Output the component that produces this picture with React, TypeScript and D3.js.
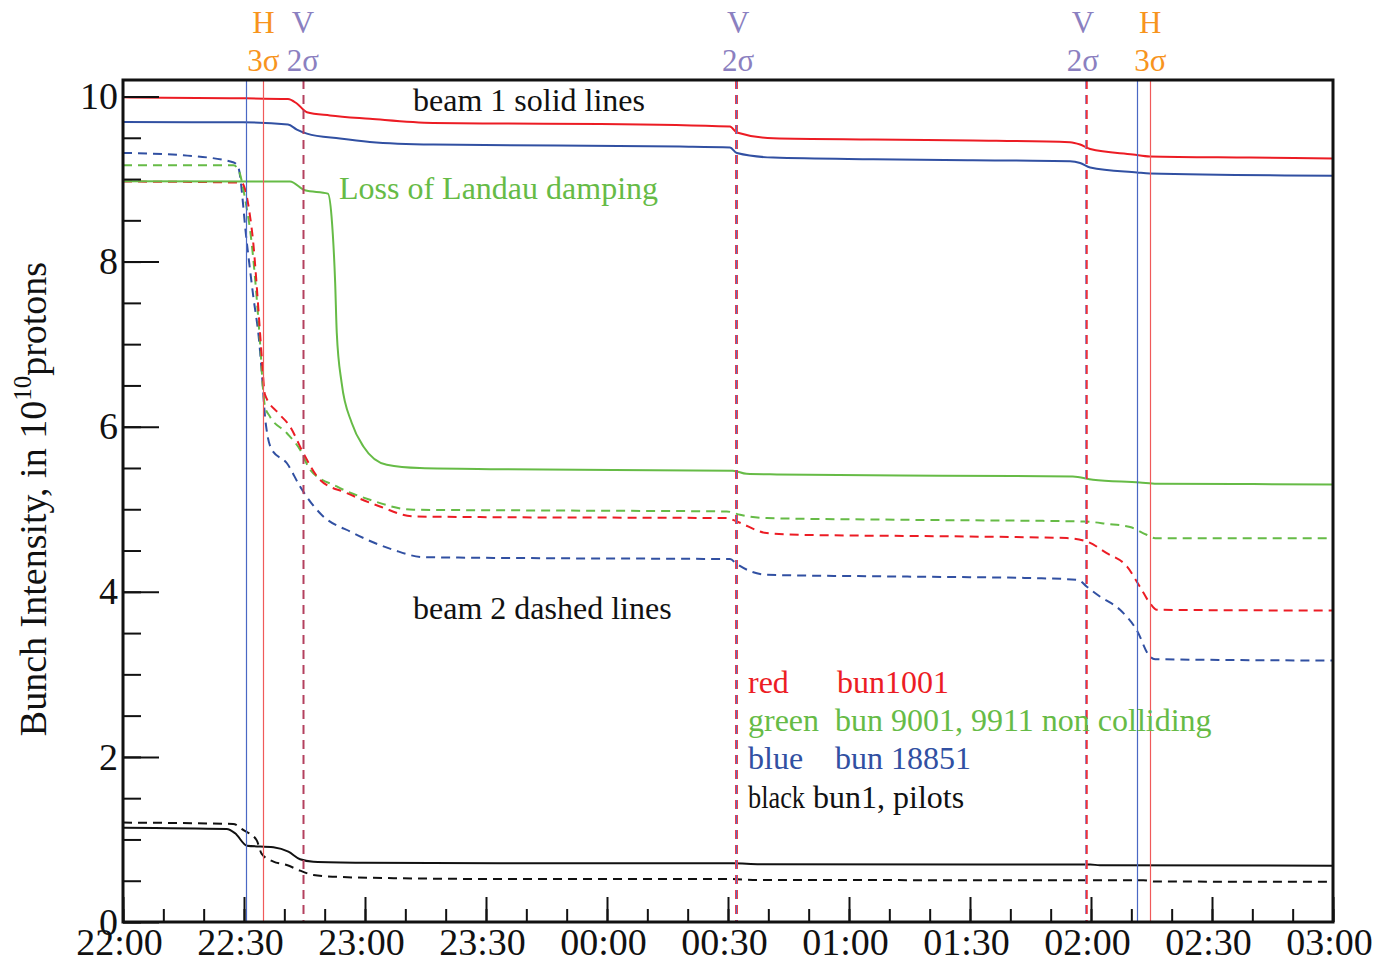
import React, { useEffect, useRef } from "react";
import * as d3 from "d3";

type P = [number, number];

// time in minutes after 22:00, intensity in 1e10 protons
const redSolid: P[] = [[0,9.99],[26.5,9.98],[40.9,9.97],[43.1,9.915],[45.6,9.81],[51.3,9.77],[61.2,9.73],[76.9,9.68],[93.5,9.673],[118.3,9.667],[150.5,9.636],[152.2,9.564],[161.2,9.494],[186,9.479],[210.7,9.467],[234.8,9.446],[237.3,9.418],[239.8,9.364],[250.4,9.297],[254.6,9.273],[279.4,9.26],[300,9.25]];
const blueSolid: P[] = [[0,9.69],[29.8,9.687],[40.9,9.66],[43.1,9.6],[45.6,9.55],[53.8,9.49],[61.2,9.45],[76.9,9.418],[138.1,9.394],[150.5,9.382],[152.2,9.315],[161.2,9.26],[186,9.24],[210.7,9.228],[234.8,9.216],[237.3,9.195],[239.8,9.14],[251.4,9.08],[254.6,9.067],[300,9.04]];
const greenSolid: P[] = [[0,8.974],[41.4,8.97],[45.1,8.864],[50.8,8.824],[51.7,8.549],[52.6,7.745],[53.0,7.139],[54.2,6.533],[56.7,6.048],[59.6,5.761],[65.4,5.539],[73.6,5.499],[93.5,5.485],[151.2,5.467],[154.6,5.43],[162.1,5.422],[202.6,5.406],[235.5,5.398],[240.5,5.358],[252.1,5.325],[256.3,5.309],[280.2,5.305],[300,5.3]];
const blackSolid: P[] = [[0,1.143],[25.7,1.127],[27.8,1.075],[30.7,0.925],[37.3,0.905],[41.0,0.852],[43.9,0.76],[47.2,0.731],[59.6,0.719],[93.5,0.711],[151.3,0.711],[157.9,0.699],[239.8,0.697],[242.2,0.687],[300,0.682]];

const redDashed: P[] = [[0,8.97],[28.2,8.958],[29.4,8.954],[31.5,8.549],[32.3,8.226],[33.1,7.742],[33.8,7.261],[34.4,6.852],[35.2,6.388],[38.5,6.166],[41.4,6.004],[44.7,5.681],[48.8,5.358],[55.5,5.196],[63.7,5.034],[72.0,4.913],[88.5,4.905],[149.7,4.893],[152.2,4.852],[159.6,4.711],[167.4,4.691],[209.2,4.67],[234.0,4.651],[238.9,4.61],[243.9,4.469],[248.9,4.307],[252.1,4.064],[254.6,3.863],[256.3,3.782],[300,3.773]];
const greenDashed: P[] = [[0,9.167],[27.4,9.167],[28.6,9.115],[30.3,8.752],[31.9,8.226],[32.7,7.822],[33.5,7.337],[34.1,6.933],[34.6,6.53],[35.2,6.246],[36.4,6.125],[40.6,5.924],[43.9,5.721],[46.4,5.479],[53.0,5.276],[61.2,5.115],[72.0,4.994],[105.0,4.985],[149.7,4.973],[153.0,4.933],[159.6,4.893],[192.6,4.873],[238.1,4.852],[243.9,4.824],[249.7,4.784],[253.8,4.691],[255.9,4.65],[300,4.65]];
const blueDashed: P[] = [[0,9.317],[14.9,9.288],[27.3,9.204],[28.5,9.155],[30.7,8.23],[32.3,7.58],[33.8,7.015],[34.6,6.53],[35.2,6.125],[35.6,5.964],[36.9,5.721],[40.6,5.56],[43.9,5.276],[45.5,5.155],[48.8,4.954],[57.1,4.712],[67.0,4.509],[74.5,4.42],[105.0,4.407],[150.5,4.396],[152.1,4.339],[159.6,4.206],[192.6,4.185],[225.6,4.166],[236.8,4.145],[238.9,4.064],[242.2,3.943],[247.2,3.782],[251.3,3.539],[254.6,3.216],[255.9,3.184],[300,3.167]];
const blackDashed: P[] = [[0,1.204],[27.3,1.188],[29.8,1.115],[33.1,0.994],[34.4,0.824],[37.3,0.731],[40.6,0.691],[43.9,0.622],[47.2,0.57],[52.1,0.549],[68.7,0.53],[93.5,0.521],[149.7,0.521],[157.9,0.509],[253,0.505],[256,0.49],[300,0.488]];

// collimator moves (minutes after 22:00)
const blueMarkers = [30.6, 251.3];
const redMarkers = [34.8, 254.7];
const dashedMarkers = [44.6, 151.9, 238.8];
const hLabelTimes = [34.8, 254.7];
const vLabelTimes = [44.6, 152.5, 238.0];

const xMajorTicks = [0, 30, 60, 90, 120, 150, 180, 210, 240, 270, 300];
const xTickLabels = ["22:00", "22:30", "23:00", "23:30", "00:00", "00:30", "01:00", "01:30", "02:00", "02:30", "03:00"];
const xMinorTicks = d3.range(0, 301, 10);
const yMajorTicks = [0, 2, 4, 6, 8, 10];
const yMinorTicks = d3.range(0, 10.01, 0.5);

const FONT = "'Liberation Serif', 'DejaVu Serif', serif";
const C_RED = "#ec1c24";
const C_BLUE = "#3150a2";
const C_GREEN = "#66bb46";
const C_ORANGE = "#f7941d";
const C_PURPLE = "#8b80c0";

export default function App() {
  const xMinRef = useRef<SVGGElement>(null);
  const xMajRef = useRef<SVGGElement>(null);
  const yMinRef = useRef<SVGGElement>(null);
  const yMajRef = useRef<SVGGElement>(null);

  const x = d3.scaleLinear().domain([0, 300]).range([123, 1333]);
  const y = d3.scaleLinear().domain([0, 10.2]).range([922, 80]);
  const line = d3.line<P>().x(d => x(d[0])).y(d => y(d[1])).curve(d3.curveMonotoneX);
  const snap = (v: number) => Math.round(v) + 0.5;

  useEffect(() => {
    const style = (g: any, size: number) => {
      g.select(".domain").remove();
      g.selectAll("line").attr("stroke", "#111").attr("stroke-width", 2);
      g.attr("font-family", FONT).attr("font-size", size);
      g.selectAll("text").attr("fill", "#111");
    };
    const gxMin = d3.select(xMinRef.current!);
    gxMin.call(d3.axisBottom(x).tickValues(xMinorTicks).tickSize(-13).tickFormat(() => "") as any);
    style(gxMin, 38);
    const gxMaj = d3.select(xMajRef.current!);
    gxMaj.call(d3.axisBottom(x).tickValues(xMajorTicks).tickSize(-25).tickPadding(6).tickFormat((_d, i) => xTickLabels[i]) as any);
    style(gxMaj, 38);
    gxMaj.selectAll("text").attr("dx", -4);
    const gyMin = d3.select(yMinRef.current!);
    gyMin.call(d3.axisLeft(y).tickValues(yMinorTicks).tickSize(-18).tickFormat(() => "") as any);
    style(gyMin, 38);
    const gyMaj = d3.select(yMajRef.current!);
    gyMaj.call(d3.axisLeft(y).tickValues(yMajorTicks).tickSize(-36).tickPadding(5).tickFormat(d3.format("d")) as any);
    style(gyMaj, 38);
  }, []);

  const series: { data: P[]; color: string; dash?: string }[] = [
    { data: blackDashed, color: "#111", dash: "9,6" },
    { data: blackSolid, color: "#111" },
    { data: blueDashed, color: C_BLUE, dash: "9,6" },
    { data: greenDashed, color: C_GREEN, dash: "9,6" },
    { data: redDashed, color: C_RED, dash: "9,6" },
    { data: greenSolid, color: C_GREEN },
    { data: blueSolid, color: C_BLUE },
    { data: redSolid, color: C_RED },
  ];

  const markerStyles = [
    [{ c: "#b4405e", w: 2, dx: 0 }],
    [{ c: "#f0404a", w: 3, dx: 0 }, { c: "#5a6cc0", w: 1, dx: 0 }],
    [{ c: "#f0303a", w: 2.5, dx: 0 }, { c: "#8090d0", w: 0.8, dx: -1 }],
  ];

  return (
    <svg width={1376} height={964} style={{ position: "absolute", left: 0, top: 0, background: "#fff" }} fontFamily={FONT}>
      <rect x={0} y={0} width={1376} height={964} fill="#fff" />
      {series.map((s, i) => (
        <path key={i} d={line(s.data) || ""} fill="none" stroke={s.color} strokeWidth={2} strokeDasharray={s.dash} />
      ))}
      {blueMarkers.map((t, i) => (
        <line key={"b" + i} x1={snap(x(t))} x2={snap(x(t))} y1={y(10.2)} y2={y(0)} stroke="#4a68c4" strokeWidth={1.2} />
      ))}
      {redMarkers.map((t, i) => (
        <line key={"r" + i} x1={snap(x(t))} x2={snap(x(t))} y1={y(10.2)} y2={y(0)} stroke="#f05a5a" strokeWidth={1.2} />
      ))}
      {dashedMarkers.map((t, i) => (
        <g key={"d" + i}>
          {markerStyles[i].map((m, j) => (
            <line key={j} x1={snap(x(t)) + m.dx} x2={snap(x(t)) + m.dx} y1={y(10.2)} y2={y(0)} stroke={m.c} strokeWidth={m.w} strokeDasharray="9,6" />
          ))}
        </g>
      ))}
      <g ref={xMinRef} transform="translate(0,922)" />
      <g ref={xMajRef} transform="translate(0,922)" />
      <g ref={yMinRef} transform="translate(123,0)" />
      <g ref={yMajRef} transform="translate(123,0)" />
      <rect x={123} y={80} width={1210} height={842} fill="none" stroke="#111" strokeWidth={3} />

      {hLabelTimes.map((t, i) => (
        <g key={"h" + i} fill={C_ORANGE} fontSize={31} textAnchor="middle">
          <text x={x(t)} y={33}>H</text>
          <text x={x(t)} y={71}>3σ</text>
        </g>
      ))}
      {vLabelTimes.map((t, i) => (
        <g key={"v" + i} fill={C_PURPLE} fontSize={31} textAnchor="middle">
          <text x={x(t)} y={33}>V</text>
          <text x={x(t)} y={71}>2σ</text>
        </g>
      ))}

      <text x={413} y={111} fontSize={32} fill="#111">beam 1 solid lines</text>
      <text x={339} y={199} fontSize={32} fill={C_GREEN}>Loss of Landau damping</text>
      <text x={413} y={619} fontSize={32} fill="#111">beam 2 dashed lines</text>

      <g fontSize={32}>
        <text x={748} y={693} fill={C_RED}>red</text>
        <text x={837} y={693} fill={C_RED}>bun1001</text>
        <text x={748} y={731} fill={C_GREEN}>green</text>
        <text x={835} y={731} fill={C_GREEN}>bun 9001, 9911 non colliding</text>
        <text x={748} y={769} fill={C_BLUE}>blue</text>
        <text x={835} y={769} fill={C_BLUE}>bun 18851</text>
        <text x={748} y={808} fill="#111" textLength={57} lengthAdjust="spacingAndGlyphs">black</text>
        <text x={813} y={808} fill="#111">bun1, pilots</text>
      </g>

      <text transform="translate(46,499) rotate(-90)" textAnchor="middle" fontSize={38} fill="#111">
        Bunch Intensity,  in 10<tspan dy={-15} fontSize={25}>10</tspan><tspan dy={15}>protons</tspan>
      </text>
    </svg>
  );
}
